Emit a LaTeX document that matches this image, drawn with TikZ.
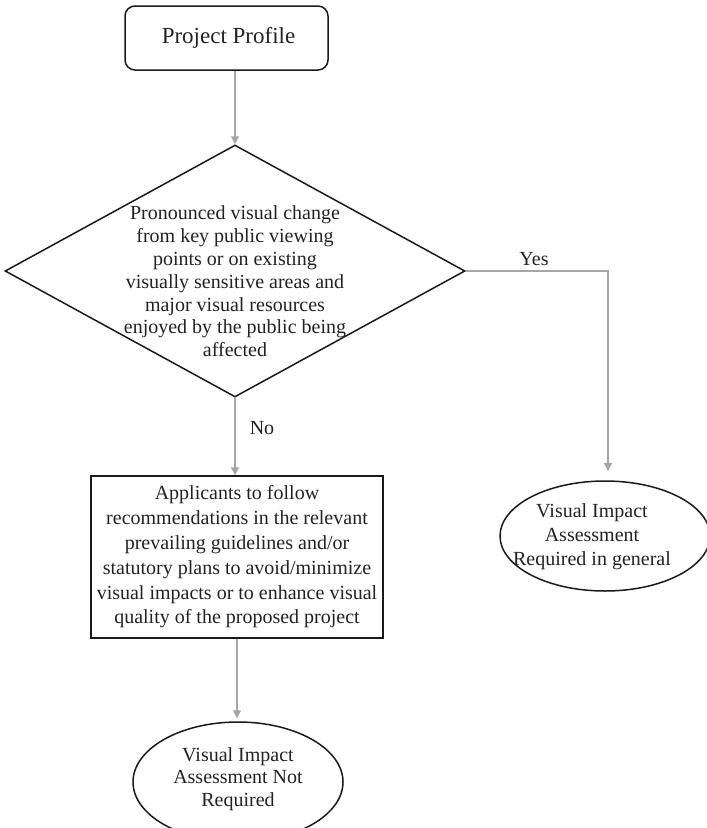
\documentclass[tikz,border=0pt]{standalone}
\usepackage{fontspec}
\setmainfont{Liberation Serif}
\usetikzlibrary{shapes.geometric,arrows.meta}
\definecolor{arrowgray}{HTML}{A6A6A6}
\definecolor{shapeline}{HTML}{1A1A1A}
\definecolor{textcol}{HTML}{222222}
\tikzset{
  flowline/.style={draw=arrowgray, line width=1.3pt, -{Triangle[width=8pt,length=8pt]}},
  shapebox/.style={draw=shapeline, line width=1.5pt, inner sep=0pt},
  bodytext/.style={font=\fontsize{20}{23}\selectfont, align=center, text=textcol},
  labeltext/.style={font=\fontsize{20}{23}\selectfont, text=textcol},
}
\begin{document}
\begin{tikzpicture}[x=1pt,y=-1pt]
\useasboundingbox (0,0) rectangle (707,828);
\begin{scope}
\clip (0,0) rectangle (707,828);
% start box
\node[shapebox, rounded corners=10pt, minimum width=203pt, minimum height=64pt,
      font=\fontsize{23}{27}\selectfont, text=textcol] (start) at (226.5,38) {\hspace*{4pt}Project Profile};
% decision diamond
\node[shapebox, diamond, minimum width=460pt, minimum height=252pt] (dec) at (235,271) {};
\node[bodytext, font=\fontsize{20}{22.8}\selectfont] (dectext) at (235,281.5)
  {Pronounced visual change\\from key public viewing\\points or on existing\\visually sensitive areas and\\major visual resources\\enjoyed by the public being\\affected};
% recommendation box
\node[shapebox, rectangle, minimum width=292pt, minimum height=162pt,
      bodytext, font=\fontsize{20}{24.8}\selectfont] (rec) at (237,557)
  {Applicants to follow\\recommendations in the relevant\\prevailing guidelines and/or\\statutory plans to avoid/minimize\\visual impacts or to enhance visual\\quality of the proposed project};
% end ellipses
\node[shapebox, ellipse, minimum width=210pt, minimum height=120pt] (notreq) at (238,782) {};
\node[bodytext, font=\fontsize{20}{22.5}\selectfont] (notreqtext) at (238,779)
  {Visual Impact\\Assessment Not\\Required};
\node[shapebox, ellipse, minimum width=210pt, minimum height=110pt] (req) at (605,536) {};
\node[bodytext, font=\fontsize{20}{24}\selectfont] (reqtext) at (592,537)
  {Visual Impact\\Assessment\\Required in general};
% connectors
\coordinate (yesend) at (608,471);
\draw[flowline] (start.south -| dec.north) -- (dec.north);
\draw[flowline] (dec.south) -- (dec.south |- rec.north);
\draw[flowline, shorten >=3pt] (rec.south) -- (rec.south |- notreq.north);
\draw[flowline] (dec.east) -| (yesend);
% labels
\node[labeltext] (yes) at (534,259) {Yes};
\node[labeltext] (no) at (262,428) {No};
\end{scope}
\end{tikzpicture}
\end{document}
